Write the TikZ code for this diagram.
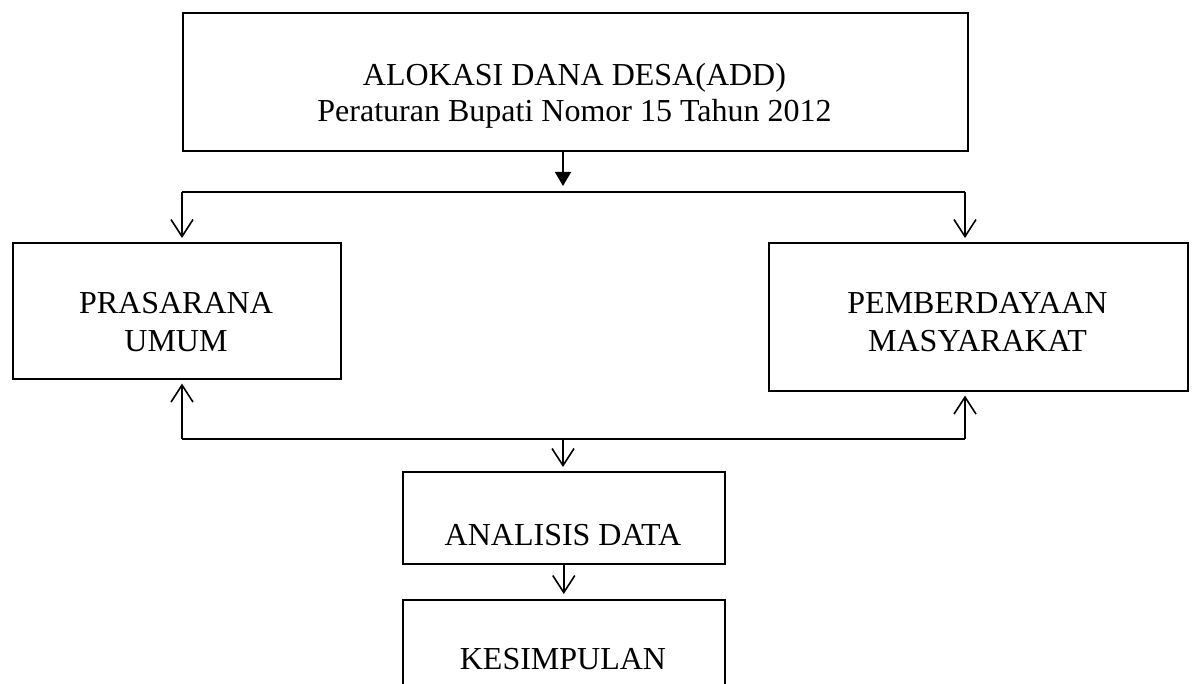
\documentclass[tikz,border=0pt]{standalone}
\usepackage{fontspec}
\setmainfont{Liberation Serif}
\usetikzlibrary{arrows.meta}
\begin{document}
\begin{tikzpicture}[x=1pt,y=-1pt,
  box/.style={draw,line width=1.6pt,rectangle,inner sep=0pt,anchor=north west},
  lbl/.style={anchor=base,inner sep=0pt,font=\fontsize{32}{36}\selectfont},
  conn/.style={line width=1.6pt},
  barb/.style={line width=1.6pt,-{Straight Barb[length=17pt,width=22pt,line width=1.6pt]}},
  tri/.style={line width=1.6pt,-{Triangle[length=14pt,width=16pt]}}
]
\useasboundingbox (0,0) rectangle (1197,684);
\clip (0,0) rectangle (1197,684);
% boxes
\node[box,minimum width=785pt,minimum height=138pt] (top) at (182,12) {};
\node[box,minimum width=328pt,minimum height=136pt] (pras) at (12,242) {};
\node[box,minimum width=419pt,minimum height=148pt] (pemb) at (768,242) {};
\node[box,minimum width=322pt,minimum height=92pt] (anal) at (402,471) {};
\node[box,minimum width=322pt,minimum height=120pt] (kes) at (402,599) {};
% texts
\node[lbl] (t1) at (574.5,86) {ALOKASI DANA DESA(ADD)};
\node[lbl] (t2) at (574.5,122) {Peraturan Bupati Nomor 15 Tahun 2012};
\node[lbl] (p1) at (176,314) {PRASARANA};
\node[lbl] (p2) at (176,352) {UMUM};
\node[lbl] (m1) at (977.5,314) {PEMBERDAYAAN};
\node[lbl] (m2) at (977.5,352) {MASYARAKAT};
\node[lbl] (a1) at (563,545) {ANALISIS DATA};
\node[lbl] (k1) at (563,669) {KESIMPULAN};
% junction coordinates
\coordinate (jt) at (563,192);
\coordinate (jl) at (182,192);
\coordinate (jr) at (965,192);
\coordinate (bl) at (182,439);
\coordinate (br) at (965,439);
\coordinate (bm) at (563,439);
% connectors
\draw[tri,shorten >=6pt] (top.south -| jt) -- (jt);
\draw[conn] (jl) -- (jr);
\draw[barb,shorten >=4pt] (jl) -- (jl |- pras.north);
\draw[barb,shorten >=4pt] (jr) -- (jr |- pemb.north);
\draw[conn] (bl) -- (br);
\draw[barb,shorten >=4pt] (bl) -- (bl |- pras.south);
\draw[barb,shorten >=4pt] (br) -- (br |- pemb.south);
\draw[barb,shorten >=4pt] (bm) -- (bm |- anal.north);
\draw[barb,shorten >=5pt] (anal.south) -- (kes.north);
\end{tikzpicture}
\end{document}
